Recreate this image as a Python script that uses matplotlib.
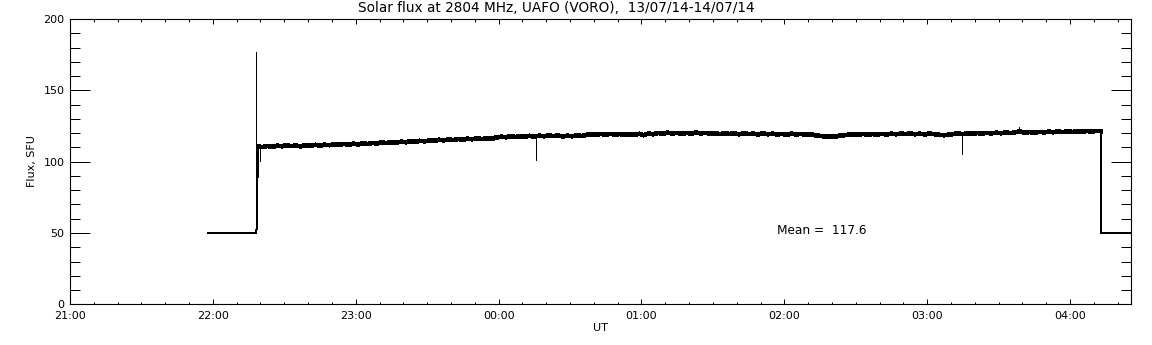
import numpy as np
import matplotlib
matplotlib.use("Agg")
import matplotlib.pyplot as plt
from matplotlib.ticker import MultipleLocator, FixedLocator

# ---- data (time in minutes after 21:00 UT, flux in SFU) ----
title = "Solar flux at 2804 MHz, UAFO (VORO),  13/07/14-14/07/14"
tick_labels = ["21:00", "22:00", "23:00", "00:00", "01:00", "02:00", "03:00", "04:00"]
mean_text = "Mean =  117.6"

# fill value (no data) segments
gap_before_t = [58.0, 78.3]
gap_before_v = [50.0, 50.0]
gap_after_t = [433.05, 470.0]
gap_after_v = [50.0, 50.0]

# main noisy record, sampled every 2 minutes from 22:19 to 04:13
main_start = 79
main_step = 2
main_flux = [
    110.6, 110.2, 111.0, 110.4, 111.2,
    110.8, 111.5, 110.9, 111.3, 110.7,
    111.6, 111.0, 111.8, 111.2, 111.9,
    111.5, 112.2, 111.7, 112.4, 111.9,
    112.6, 112.1, 112.9, 112.4, 113.1,
    112.8, 113.5, 113.0, 113.7, 113.3,
    114.0, 113.6, 114.3, 113.9, 114.6,
    114.2, 115.0, 114.6, 115.3, 114.9,
    115.6, 115.1, 115.9, 115.4, 116.1,
    115.7, 116.3, 115.8, 116.4, 116.0,
    116.9, 117.5, 117.1, 117.8, 117.3,
    117.9, 117.4, 118.1, 117.6, 118.2,
    117.8, 118.4, 117.9, 118.3, 117.7,
    118.2, 117.8, 118.5, 118.0, 118.9,
    119.3, 118.8, 119.4, 118.9, 119.5,
    119.0, 119.4, 118.7, 119.3, 118.9,
    119.5, 118.6, 119.8, 119.2, 120.1,
    119.6, 120.3, 119.7, 120.2, 119.5,
    120.1, 119.6, 120.4, 119.8, 120.2,
    119.5, 120.0, 119.3, 119.9, 119.4,
    119.8, 119.2, 119.9, 119.3, 119.7,
    119.1, 119.8, 119.2, 119.6, 119.0,
    119.5, 118.9, 119.6, 119.1, 119.4,
    118.8, 119.3, 118.5, 118.1, 117.6,
    117.9, 117.4, 118.2, 118.5, 118.9,
    119.2, 118.8, 119.4, 118.9, 119.3,
    119.0, 119.5, 119.1, 119.6, 119.2,
    119.7, 119.3, 119.8, 119.2, 119.6,
    119.1, 119.7, 119.3, 118.8, 118.5,
    118.9, 119.4, 119.8, 119.3, 119.9,
    119.5, 120.1, 119.6, 120.2, 119.8,
    120.3, 119.9, 120.5, 120.0, 120.6,
    121.2, 120.2, 120.8, 120.3, 120.9,
    120.5, 121.1, 120.6, 121.2, 120.7,
    121.3, 120.8, 121.4, 120.9, 121.5,
    121.0, 121.6, 121.4,
]

# isolated single-sample spikes / dips (drawn as vertical strokes)
spike_t = [78.3, 79.6, 195.6, 374.7, 398.4]
spike_from = [50.0, 110.6, 117.9, 119.6, 120.6]
spike_to = [177.0, 100.6, 101.0, 105.5, 124.0]

main_t = main_start + main_step * np.arange(len(main_flux))

# ---- figure ----
plt.rcParams["font.family"] = ["DejaVu Sans"]
W, H = 1152, 345
fig = plt.figure(figsize=(W / 100, H / 100), dpi=100)
ax = fig.add_axes([70 / W, 1 - 304.3 / H, (1131 - 70) / W, (304.3 - 19) / H])

# full record (fill value + data + fill value), thin
rec_t = np.concatenate([gap_before_t, main_t, gap_after_t])
rec_v = np.concatenate([gap_before_v, main_flux, gap_after_v])
ax.plot(rec_t, rec_v, color="black", lw=0.72, antialiased=False)
# the densely sampled noisy record appears as a thick band
ax.plot(main_t, main_flux, color="black", lw=2.6, antialiased=False,
        solid_joinstyle="miter")
ax.vlines(spike_t, spike_from, spike_to, color="black", lw=0.72,
          antialiased=False)

ax.set_xlim(0, 445.6)
ax.set_ylim(0, 200)

ax.xaxis.set_major_locator(FixedLocator(np.arange(0, 8) * 60))
ax.set_xticklabels(tick_labels)
ax.xaxis.set_minor_locator(MultipleLocator(10))
ax.yaxis.set_major_locator(MultipleLocator(50))
ax.yaxis.set_minor_locator(MultipleLocator(10))

ax.tick_params(axis="x", which="both", direction="in", top=True, bottom=True,
               labelsize=8, pad=5, width=0.72)
ax.tick_params(axis="x", which="major", length=3.6)
ax.tick_params(axis="x", which="minor", length=1.8)
ax.tick_params(axis="y", which="both", direction="in", left=True, right=True,
               labelsize=8, pad=4, width=0.72)
ax.tick_params(axis="y", which="major", length=14.4)
ax.tick_params(axis="y", which="minor", length=7.2)
for s in ax.spines.values():
    s.set_linewidth(0.8)

fig.text(556 / W, 1 - 8 / H, title, ha="center", va="center", fontsize=9.8)
fig.text(32 / W, 1 - 161 / H, "Flux, SFU", rotation=90, ha="center",
         va="center", fontsize=8)
fig.text(600 / W, 1 - 328 / H, "UT", ha="center", va="center", fontsize=8)
fig.text(777 / W, 1 - 230 / H, mean_text, ha="left", va="center", fontsize=8.7)

fig.savefig("out.png", dpi=100, facecolor="white")
